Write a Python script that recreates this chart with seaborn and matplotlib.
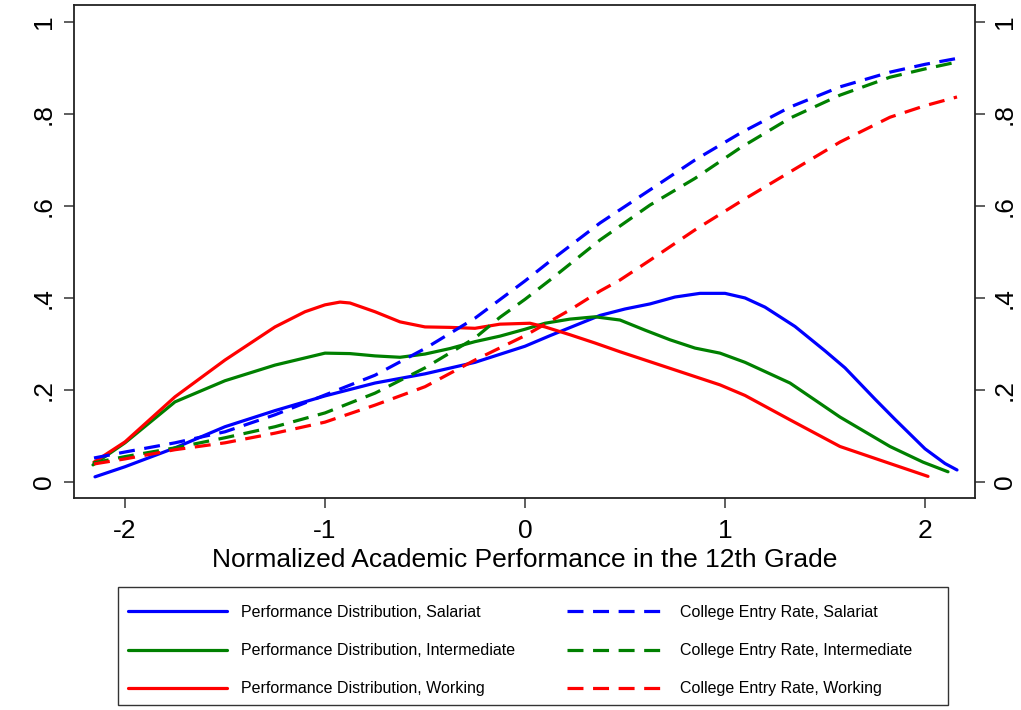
import numpy as np
import pandas as pd
import seaborn as sns
import matplotlib.pyplot as plt
from matplotlib.patches import Rectangle

# values
sal_perf_x = [-2.15, -2.0, -1.75, -1.5, -1.25, -1.0, -0.75, -0.5, -0.25, 0.0, 0.125, 0.25, 0.375, 0.5,
              0.625, 0.75, 0.875, 1.0, 1.1, 1.2, 1.35, 1.5, 1.6, 1.75, 1.85, 2.0, 2.1, 2.16]
sal_perf_y = [0.011, 0.033, 0.074, 0.12, 0.155, 0.187, 0.215, 0.235, 0.26, 0.295, 0.318, 0.34, 0.362, 0.376,
              0.387, 0.402, 0.41, 0.41, 0.40, 0.38, 0.338, 0.285, 0.248, 0.18, 0.136, 0.072, 0.04, 0.026]

int_perf_x = [-2.16, -2.0, -1.75, -1.5, -1.25, -1.0, -0.875, -0.75, -0.625, -0.5, -0.375, -0.25, -0.125, 0.0,
              0.1, 0.225, 0.35, 0.475, 0.6, 0.725, 0.85, 0.975, 1.1, 1.325, 1.575, 1.825, 1.99, 2.115]
int_perf_y = [0.037, 0.085, 0.174, 0.22, 0.254, 0.28, 0.279, 0.274, 0.271, 0.278, 0.29, 0.305, 0.317, 0.332,
              0.345, 0.354, 0.359, 0.352, 0.33, 0.309, 0.291, 0.28, 0.26, 0.215, 0.141, 0.077, 0.043, 0.022]

wor_perf_x = [-2.155, -2.0, -1.75, -1.5, -1.25, -1.1, -1.0, -0.925, -0.875, -0.75, -0.625, -0.5, -0.375, -0.25,
              -0.125, 0.025, 0.1, 0.225, 0.35, 0.475, 0.6, 0.725, 0.85, 0.975, 1.1, 1.325, 1.575, 1.825, 2.015]
wor_perf_y = [0.043, 0.087, 0.185, 0.265, 0.337, 0.37, 0.385, 0.391, 0.389, 0.37, 0.348, 0.337, 0.336, 0.334,
              0.343, 0.345, 0.337, 0.32, 0.302, 0.283, 0.265, 0.247, 0.229, 0.211, 0.188, 0.135, 0.077, 0.04, 0.012]

sal_rate_x = [-2.155, -2.0, -1.75, -1.5, -1.25, -1.0, -0.75, -0.5, -0.25, 0.0, 0.125, 0.375, 0.625, 0.85,
              1.075, 1.325, 1.575, 1.825, 2.0, 2.15]
sal_rate_y = [0.052, 0.065, 0.085, 0.109, 0.146, 0.189, 0.232, 0.29, 0.356, 0.437, 0.48, 0.563, 0.635, 0.70,
              0.758, 0.815, 0.859, 0.891, 0.908, 0.92]

int_rate_x = [-2.16, -2.0, -1.75, -1.5, -1.25, -1.0, -0.75, -0.5, -0.25, -0.125, 0.0, 0.125, 0.375, 0.625, 0.85,
              1.075, 1.325, 1.575, 1.825, 2.0, 2.16]
int_rate_y = [0.041, 0.055, 0.074, 0.096, 0.12, 0.15, 0.193, 0.248, 0.313, 0.358, 0.397, 0.439, 0.526, 0.602, 0.66,
              0.726, 0.791, 0.841, 0.88, 0.898, 0.913]

wor_rate_x = [-2.155, -2.0, -1.75, -1.5, -1.25, -1.0, -0.75, -0.5, -0.25, 0.0, 0.225, 0.375, 0.475, 0.625, 0.85,
              1.075, 1.325, 1.575, 1.825, 2.0, 2.16]
wor_rate_y = [0.039, 0.05, 0.07, 0.085, 0.106, 0.13, 0.167, 0.207, 0.265, 0.318, 0.374, 0.415, 0.439, 0.482, 0.548,
              0.609, 0.674, 0.739, 0.793, 0.818, 0.837]

series_labels = ["Performance Distribution, Salariat", "Performance Distribution, Intermediate",
                 "Performance Distribution, Working", "College Entry Rate, Salariat",
                 "College Entry Rate, Intermediate", "College Entry Rate, Working"]

x_ticks = [-2, -1, 0, 1, 2]
x_tick_labels = ["-2", "-1", "0", "1", "2"]
y_ticks = [0, 0.2, 0.4, 0.6, 0.8, 1]
y_tick_labels = ["0", ".2", ".4", ".6", ".8", "1"]

sns.set_style("ticks")
plt.rcParams['font.family'] = ['Liberation Sans', 'DejaVu Sans']
plt.rcParams['text.color'] = 'black'
plt.rcParams['axes.labelcolor'] = 'black'
plt.rcParams['xtick.color'] = 'black'
plt.rcParams['ytick.color'] = 'black'

fig = plt.figure(figsize=(10.21, 7.10), dpi=100)
ax = fig.add_axes([74 / 1021, 1 - 498 / 710, (975 - 74) / 1021, (498 - 5) / 710])

blue, green, red = "#0000ff", "#008000", "#ff0000"
dash = (0, (5, 3))
lines = [
    (sal_perf_x, sal_perf_y, blue, "-"),
    (int_perf_x, int_perf_y, green, "-"),
    (wor_perf_x, wor_perf_y, red, "-"),
    (sal_rate_x, sal_rate_y, blue, dash),
    (int_rate_x, int_rate_y, green, dash),
    (wor_rate_x, wor_rate_y, red, dash),
]
for (xs, ys, col, ls), lab in zip(lines, series_labels):
    sns.lineplot(x=xs, y=ys, ax=ax, color=col, linestyle=ls, linewidth=2.3, label=lab, legend=False)

ax.set_xlim(-2.255, 2.25)
ax.set_ylim(-0.035, 1.037)
ax.set_xticks(x_ticks)
ax.set_xticklabels(x_tick_labels)
ax.set_yticks(y_ticks)
ax.set_yticklabels(y_tick_labels)
ax.tick_params(axis='both', labelsize=19, length=7, width=1.1, color="#333333", labelcolor='black', direction='out')
ax.tick_params(axis='x', pad=8)
ax.tick_params(axis='y', left=True, right=True, labelleft=True, labelright=True, labelrotation=90, pad=6)
for lbl in ax.get_yticklabels():
    lbl.set_verticalalignment('center')
for s in ax.spines.values():
    s.set_visible(True)
    s.set_linewidth(1.3)
    s.set_color("#222222")
ax.set_xlabel("Normalized Academic Performance in the 12th Grade", fontsize=19, labelpad=4, color='black')
ax.set_ylabel("")

handles, labels = ax.get_legend_handles_labels()
leg = fig.legend(handles, labels, loc='upper left', ncol=2, mode='expand',
                 bbox_to_anchor=(128 / 1021, 1 - 702 / 710, (912 - 128) / 1021, (702 - 605) / 710),
                 fontsize=11.5, frameon=False, handlelength=6.2, handletextpad=0.85,
                 labelspacing=1.45, borderpad=0.0, borderaxespad=0.0)
# legend box drawn as its own frame so it spans the full width
fig.patches.append(Rectangle((118 / 1021, 1 - 705 / 710), (948 - 118) / 1021, (705 - 587) / 710,
                             transform=fig.transFigure, fill=False, edgecolor="#333333", linewidth=1.0))

fig.savefig("out.png", dpi=100)
